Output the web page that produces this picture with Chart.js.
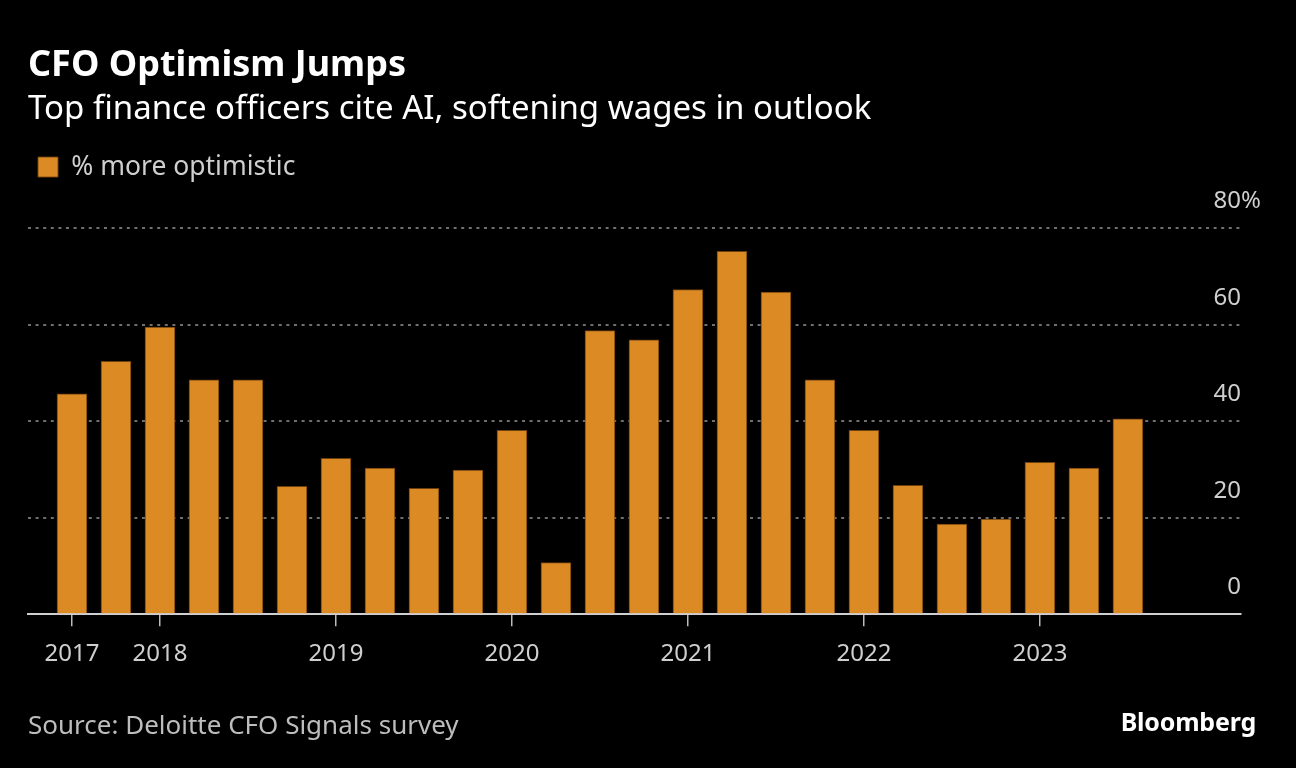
<!DOCTYPE html>
<html>
<head>
<meta charset="utf-8">
<script src="https://cdn.jsdelivr.net/npm/chart.js@4.4.1/dist/chart.umd.min.js"></script>
<style>
  html, body { margin: 0; padding: 0; background: #000; }
  #wrap { position: relative; width: 1296px; height: 768px; }
  #source { position: absolute; left: 28px; top: 706px; font: 26px 'Noto Sans', sans-serif; color: #bdbdbd; }
  #brand { position: absolute; right: 40px; top: 704px; font: bold 25px 'Noto Sans', sans-serif; color: #fff; letter-spacing: -0.2px; }
</style>
</head>
<body>
<div id="wrap">
  <canvas id="chart" width="1296" height="768"></canvas>
  <div id="source">Source: Deloitte CFO Signals survey</div>
  <div id="brand">Bloomberg</div>
</div>
<script>
/* DATA */
const quarters = ["3Q17", "4Q17", "1Q18", "2Q18", "3Q18", "4Q18", "1Q19", "2Q19", "3Q19",
    "4Q19", "1Q20", "2Q20", "3Q20", "4Q20", "1Q21", "2Q21", "3Q21", "4Q21", "1Q22",
    "2Q22", "3Q22", "4Q22", "1Q23", "2Q23", "3Q23"];
const moreOptimistic = [45.7, 52.4, 59.5, 48.6, 48.6, 26.5, 32.3, 30.3, 26.1,
    29.9, 38.1, 10.7, 58.8, 56.9, 67.3, 75.2, 66.8, 48.6, 38.1,
    26.7, 18.7, 19.7, 31.5, 30.3, 40.5];
const yearTickIndex = [0, 2, 6, 10, 14, 18, 22];
const yearTickLabels = ["2017", "2018", "2019", "2020", "2021", "2022", "2023"];
const yTicks = [0, 20, 40, 60, 80];

const FONT = "'Noto Sans', sans-serif";
const ORANGE = "#db8a24";
const LABEL_OFFSET = -27;

/* percent sign after the top tick */
const percentSign = {
    id: "percentSign",
    afterDraw(chart) {
        const y = chart.scales.y;
        const ctx = chart.ctx;
        ctx.save();
        ctx.font = "24px " + FONT;
        ctx.fillStyle = "#cfcfcf";
        ctx.textAlign = "left";
        ctx.textBaseline = "middle";
        ctx.fillText("%", chart.chartArea.right, y.getPixelForValue(yTicks[yTicks.length - 1]) + LABEL_OFFSET);
        ctx.restore();
    }
};

/* extra room under the legend */
const legendGap = {
    id: "legendGap",
    beforeInit(chart) {
        const fit = chart.legend.fit;
        chart.legend.fit = function () {
            fit.call(this);
            this.height += 38;
        };
    }
};

new Chart(document.getElementById("chart"), {
    type: "bar",
    data: {
        labels: quarters,
        datasets: [{
            label: "% more optimistic",
            data: moreOptimistic.map((v, i) => ({ x: i, y: v })),
            backgroundColor: ORANGE,
            borderColor: "rgba(120,70,15,0.9)",
            borderWidth: 1,
            barThickness: 30
        }]
    },
    options: {
        responsive: false,
        animation: false,
        layout: { padding: { left: 28, right: 55, top: 44, bottom: 85 } },
        plugins: {
            title: {
                display: true,
                text: "CFO Optimism Jumps",
                align: "start",
                color: "#fff",
                font: { family: FONT, size: 36, weight: "bold" },
                padding: { top: 0, bottom: 3 }
            },
            subtitle: {
                display: true,
                text: "Top finance officers cite AI, softening wages in outlook",
                align: "start",
                color: "#fff",
                font: { family: FONT, size: 33 },
                padding: { top: 0, bottom: 14 }
            },
            legend: {
                align: "start",
                labels: {
                    color: "#cfcfcf",
                    font: { family: FONT, size: 26.5 },
                    boxWidth: 20,
                    boxHeight: 20,
                    padding: 10
                }
            },
            tooltip: { enabled: false }
        },
        scales: {
            x: {
                type: "linear",
                offset: false,
                min: -1,
                max: 26.57,
                afterBuildTicks: s => { s.ticks = yearTickIndex.map(v => ({ value: v })); },
                ticks: {
                    color: "#cfcfcf",
                    font: { family: FONT, size: 24 },
                    padding: 14,
                    maxRotation: 0,
                    autoSkip: false,
                    callback: v => yearTickLabels[yearTickIndex.indexOf(v)]
                },
                grid: { offset: false, drawOnChartArea: false, drawTicks: true, tickLength: 12, color: "#bbb", lineWidth: 1.5 },
                border: { color: "#cfcfcf", width: 2 }
            },
            y: {
                position: "right",
                min: 0,
                max: 80,
                afterBuildTicks: s => { s.ticks = yTicks.map(v => ({ value: v })); },
                ticks: {
                    mirror: true,
                    padding: 0,
                    labelOffset: LABEL_OFFSET,
                    color: "#cfcfcf",
                    font: { family: FONT, size: 24 }
                },
                grid: {
                    drawTicks: false,
                    color: ctx => ctx.tick && ctx.tick.value === 0 ? "rgba(0,0,0,0)" : "#6f6f6f",
                    lineWidth: 2
                },
                border: { display: false, dash: [3, 4.6] }
            }
        }
    },
    plugins: [percentSign, legendGap]
});
</script>
</body>
</html>
